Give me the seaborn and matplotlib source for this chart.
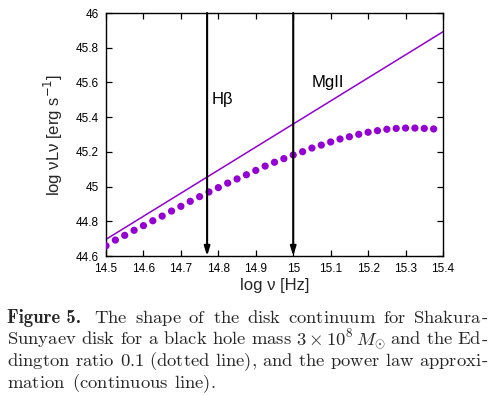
import matplotlib
matplotlib.use("Agg")
import matplotlib.pyplot as plt
import seaborn as sns
import pandas as pd

# ---- data ----
log_nu_disk = [14.500, 14.525, 14.550, 14.575, 14.600, 14.625, 14.650, 14.675,
               14.700, 14.725, 14.750, 14.775, 14.800, 14.825, 14.850, 14.875,
               14.900, 14.925, 14.950, 14.975, 15.000, 15.025, 15.050, 15.075,
               15.100, 15.125, 15.150, 15.175, 15.200, 15.225, 15.250, 15.275,
               15.300, 15.325, 15.350, 15.375]
log_L_disk = [44.659, 44.692, 44.719, 44.748, 44.775, 44.803, 44.830, 44.859,
              44.886, 44.915, 44.942, 44.969, 44.994, 45.020, 45.044, 45.068,
              45.093, 45.118, 45.140, 45.161, 45.182, 45.201, 45.222, 45.239,
              45.257, 45.274, 45.287, 45.301, 45.313, 45.322, 45.330, 45.335,
              45.337, 45.337, 45.335, 45.332]
log_nu_pl = [14.5, 15.4]
log_L_pl = [44.696, 45.892]

line_names = ["H\u03b2", "MgII"]
line_pos = [14.77, 15.0]
label_x = [14.783, 15.05]
label_y = [45.50, 45.60]

xticks = [14.5, 14.6, 14.7, 14.8, 14.9, 15.0, 15.1, 15.2, 15.3, 15.4]
xtick_labels = ["14.5", "14.6", "14.7", "14.8", "14.9", "15", "15.1", "15.2", "15.3", "15.4"]
yticks = [44.6, 44.8, 45.0, 45.2, 45.4, 45.6, 45.8, 46.0]
ytick_labels = ["44.6", "44.8", "45", "45.2", "45.4", "45.6", "45.8", "46"]

caption_lines = [
    [("Figure 5.", "bold"), "The", "shape", "of", "the", "disk", "continuum", "for", "Shakura-"],
    ["Sunyaev", "disk", "for", "a", "black", "hole", "mass", ("3\\times 10^{8}\\,M_{\\odot}", "math"), "and", "the", "Ed-"],
    ["dington", "ratio", "0.1", "(dotted", "line),", "and", "the", "power", "law", "approxi-"],
    ["mation", "(continuous", "line)."],
]

# ---- style ----
sns.set_style("ticks")
plt.rcParams["font.family"] = ["Liberation Sans", "DejaVu Sans"]
plt.rcParams["xtick.direction"] = "in"
plt.rcParams["ytick.direction"] = "in"

W, H = 492, 395
fig = plt.figure(figsize=(W / 100, H / 100), dpi=100)
ax = fig.add_axes([106 / W, 1 - 256 / H, 337 / W, 243 / H])

purple = "#9400D3"
df_disk = pd.DataFrame({"x": log_nu_disk, "y": log_L_disk})
df_pl = pd.DataFrame({"x": log_nu_pl, "y": log_L_pl})

sns.lineplot(data=df_pl, x="x", y="y", ax=ax, color=purple, linewidth=1.1)
sns.scatterplot(data=df_disk, x="x", y="y", ax=ax, color=purple, s=27,
                edgecolor="none", zorder=3)

for name, xp, lx, ly in zip(line_names, line_pos, label_x, label_y):
    ax.annotate("", xy=(xp, 44.6), xytext=(xp, 46.0),
                arrowprops=dict(arrowstyle="-|>,head_length=0.55,head_width=0.17",
                                color="black", lw=1.5, shrinkA=0, shrinkB=0),
                zorder=4)
    ax.text(lx, ly, name, fontsize=12, ha="left", va="center", color="black")

ax.set_xlim(14.5, 15.4)
ax.set_ylim(44.6, 46.0)
ax.set_xticks(xticks)
ax.set_xticklabels(xtick_labels)
ax.set_yticks(yticks)
ax.set_yticklabels(ytick_labels)
ax.tick_params(axis="both", which="major", labelsize=8.5, length=4, width=0.9,
               top=True, right=True, direction="in", colors="black", pad=5)
for s in ax.spines.values():
    s.set_linewidth(1.0)
    s.set_color("black")

ax.set_xlabel("log \u03bd [Hz]", fontsize=12, labelpad=2)
ax.set_ylabel("log \u03bdL\u03bd [erg s$^{-1}$]", fontsize=12, labelpad=8,
              math_fontfamily="dejavusans")

# ---- caption (justified) ----
fig.canvas.draw()
r = fig.canvas.get_renderer()
fs = 13.4
x0, x1 = 7, 488
baselines = [322.7, 344.4, 366.1, 387.8]


def make_word(w, yb):
    """Return list of text pieces forming one word."""
    pieces = []
    if isinstance(w, tuple):
        txt, kind = w
        if kind == "bold":
            pieces.append(fig.text(0, 1 - yb / H, txt, fontsize=fs, family="cmb10",
                                   va="baseline", ha="left"))
        else:
            pieces.append(fig.text(0, 1 - yb / H, "$" + txt + "$", fontsize=fs,
                                   va="baseline", ha="left", math_fontfamily="cm"))
        return pieces
    hyph = w.endswith("-")
    core = w[:-1] if hyph else w
    pieces.append(fig.text(0, 1 - yb / H, "$\\mathrm{" + core + "}$", fontsize=fs,
                           va="baseline", ha="left", math_fontfamily="cm"))
    if hyph:
        pieces.append(fig.text(0, 1 - yb / H, "-", fontsize=fs, family="cmr10",
                               va="baseline", ha="left"))
    return pieces


for li, (words, yb) in enumerate(zip(caption_lines, baselines)):
    groups = [make_word(w, yb) for w in words]
    weights = [2.0 if isinstance(w, tuple) and w[1] == "bold" else 1.0 for w in words]
    gw = [[p.get_window_extent(r).width for p in g] for g in groups]
    widths = [sum(g) for g in gw]
    gaps = weights[:-1]
    if li < len(caption_lines) - 1:
        unit = ((x1 - x0) - sum(widths)) / sum(gaps)
    else:
        unit = fs * 100 / 72 * 0.333
    x = x0
    for i, (g, pw) in enumerate(zip(groups, gw)):
        xx = x
        for p, w in zip(g, pw):
            p.set_x(xx / W)
            xx += w
        if i < len(gaps):
            x += widths[i] + unit * gaps[i]

fig.savefig("out.png", dpi=100)
